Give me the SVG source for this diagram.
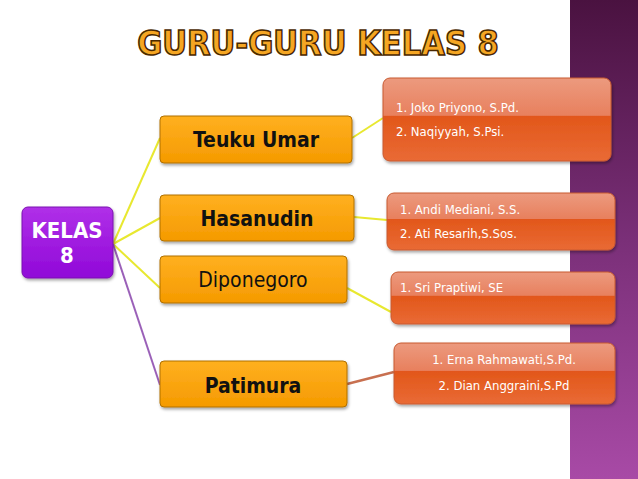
<svg xmlns="http://www.w3.org/2000/svg" width="638" height="479" viewBox="0 0 638 479">
<defs>
<linearGradient id="band" x1="0" y1="0" x2="0" y2="1"><stop offset="0" stop-color="#4a1240"/><stop offset="0.5" stop-color="#7a2f78"/><stop offset="1" stop-color="#a84aa6"/></linearGradient>
<linearGradient id="org" x1="0" y1="0" x2="0" y2="1"><stop offset="0" stop-color="#ffb020"/><stop offset="1" stop-color="#f59a00"/></linearGradient>
<linearGradient id="red" x1="0" y1="0" x2="0" y2="1"><stop offset="0" stop-color="#ec9a7e"/><stop offset="0.45" stop-color="#e8805e"/><stop offset="0.46" stop-color="#e2571a"/><stop offset="1" stop-color="#e96a35"/></linearGradient>
<linearGradient id="pur" x1="0" y1="0" x2="0" y2="1"><stop offset="0" stop-color="#b030e8"/><stop offset="1" stop-color="#9008d8"/></linearGradient>
<filter id="sh" x="-10%" y="-10%" width="130%" height="140%"><feDropShadow dx="1" dy="2" stdDeviation="1.5" flood-color="#000" flood-opacity="0.35"/></filter>
</defs>
<style>
.o{fill:url(#org);stroke:#b07000;stroke-width:1;filter:url(#sh)}
.r{fill:url(#red);stroke:#c85a30;stroke-width:1;filter:url(#sh)}
.ot{font-family:"DejaVu Sans Condensed","Liberation Sans",sans-serif;font-size:21px;fill:#111;text-anchor:middle}
.rt{font-family:"DejaVu Sans Condensed","Liberation Sans",sans-serif;font-size:13px;fill:#fff}
.c{fill:none;stroke:#e8e830;stroke-width:2}
</style>
<rect width="638" height="479" fill="#fff"/>
<rect x="570" y="0" width="68" height="479" fill="url(#band)"/>
<text x="318" y="55" text-anchor="middle" font-family="DejaVu Sans Condensed, Liberation Sans, sans-serif" font-weight="bold" font-size="34" fill="#f5a623" stroke="#4a2800" stroke-width="1.5">GURU-GURU KELAS 8</text>
<g id="connectors">
<line class="c" x1="113" y1="244" x2="160" y2="138"/>
<line class="c" x1="113" y1="244" x2="160" y2="218"/>
<line class="c" x1="113" y1="244" x2="160" y2="288"/>
<line x1="113" y1="244" x2="160" y2="385" stroke="#9a60b8" stroke-width="2"/>
<line class="c" x1="352" y1="138" x2="383" y2="118"/>
<line class="c" x1="354" y1="217" x2="387" y2="220"/>
<line class="c" x1="347" y1="288" x2="391" y2="312"/>
<line x1="347" y1="384" x2="394" y2="372" stroke="#c87050" stroke-width="2.5"/>
</g>
<g id="kelas"><rect x="22" y="207" width="91" height="71" rx="6" fill="url(#pur)" stroke="#7a10b0" filter="url(#sh)"/>
<text x="67" y="238" text-anchor="middle" font-family="DejaVu Sans Condensed, Liberation Sans, sans-serif" font-weight="bold" font-size="22" fill="#fff">KELAS</text>
<text x="67" y="263" text-anchor="middle" font-family="DejaVu Sans Condensed, Liberation Sans, sans-serif" font-weight="bold" font-size="22" fill="#fff">8</text></g>
<g id="teuku"><rect class="o" x="160" y="116" width="192" height="47" rx="4"/><text class="ot" x="256" y="147" font-weight="bold">Teuku Umar</text></g>
<g id="hasanudin"><rect class="o" x="160" y="195" width="194" height="46" rx="4"/><text class="ot" x="257" y="226" font-weight="bold">Hasanudin</text></g>
<g id="diponegoro"><rect class="o" x="160" y="256" width="187" height="47" rx="4"/><text class="ot" x="253" y="287">Diponegoro</text></g>
<g id="patimura"><rect class="o" x="160" y="361" width="187" height="46" rx="4"/><text class="ot" x="253" y="393" font-weight="bold" font-size="24">Patimura</text></g>
<g id="t1"><rect class="r" x="383" y="78" width="228" height="83" rx="7"/><text class="rt" x="396" y="112">1. Joko Priyono, S.Pd.</text><text class="rt" x="396" y="136">2. Naqiyyah, S.Psi.</text></g>
<g id="t2"><rect class="r" x="387" y="193" width="228" height="57" rx="7"/><text class="rt" x="400" y="214">1. Andi Mediani, S.S.</text><text class="rt" x="400" y="238">2. Ati Resarih,S.Sos.</text></g>
<g id="t3"><rect class="r" x="391" y="272" width="224" height="52" rx="7"/><text class="rt" x="400" y="292">1.  Sri Praptiwi, SE</text></g>
<g id="t4"><rect class="r" x="394" y="343" width="221" height="61" rx="7"/><text class="rt" x="504" y="364" text-anchor="middle" font-size="15">1. Erna Rahmawati,S.Pd.</text><text class="rt" x="504" y="390" text-anchor="middle" font-size="15">2. Dian Anggraini,S.Pd</text></g>
</svg>
